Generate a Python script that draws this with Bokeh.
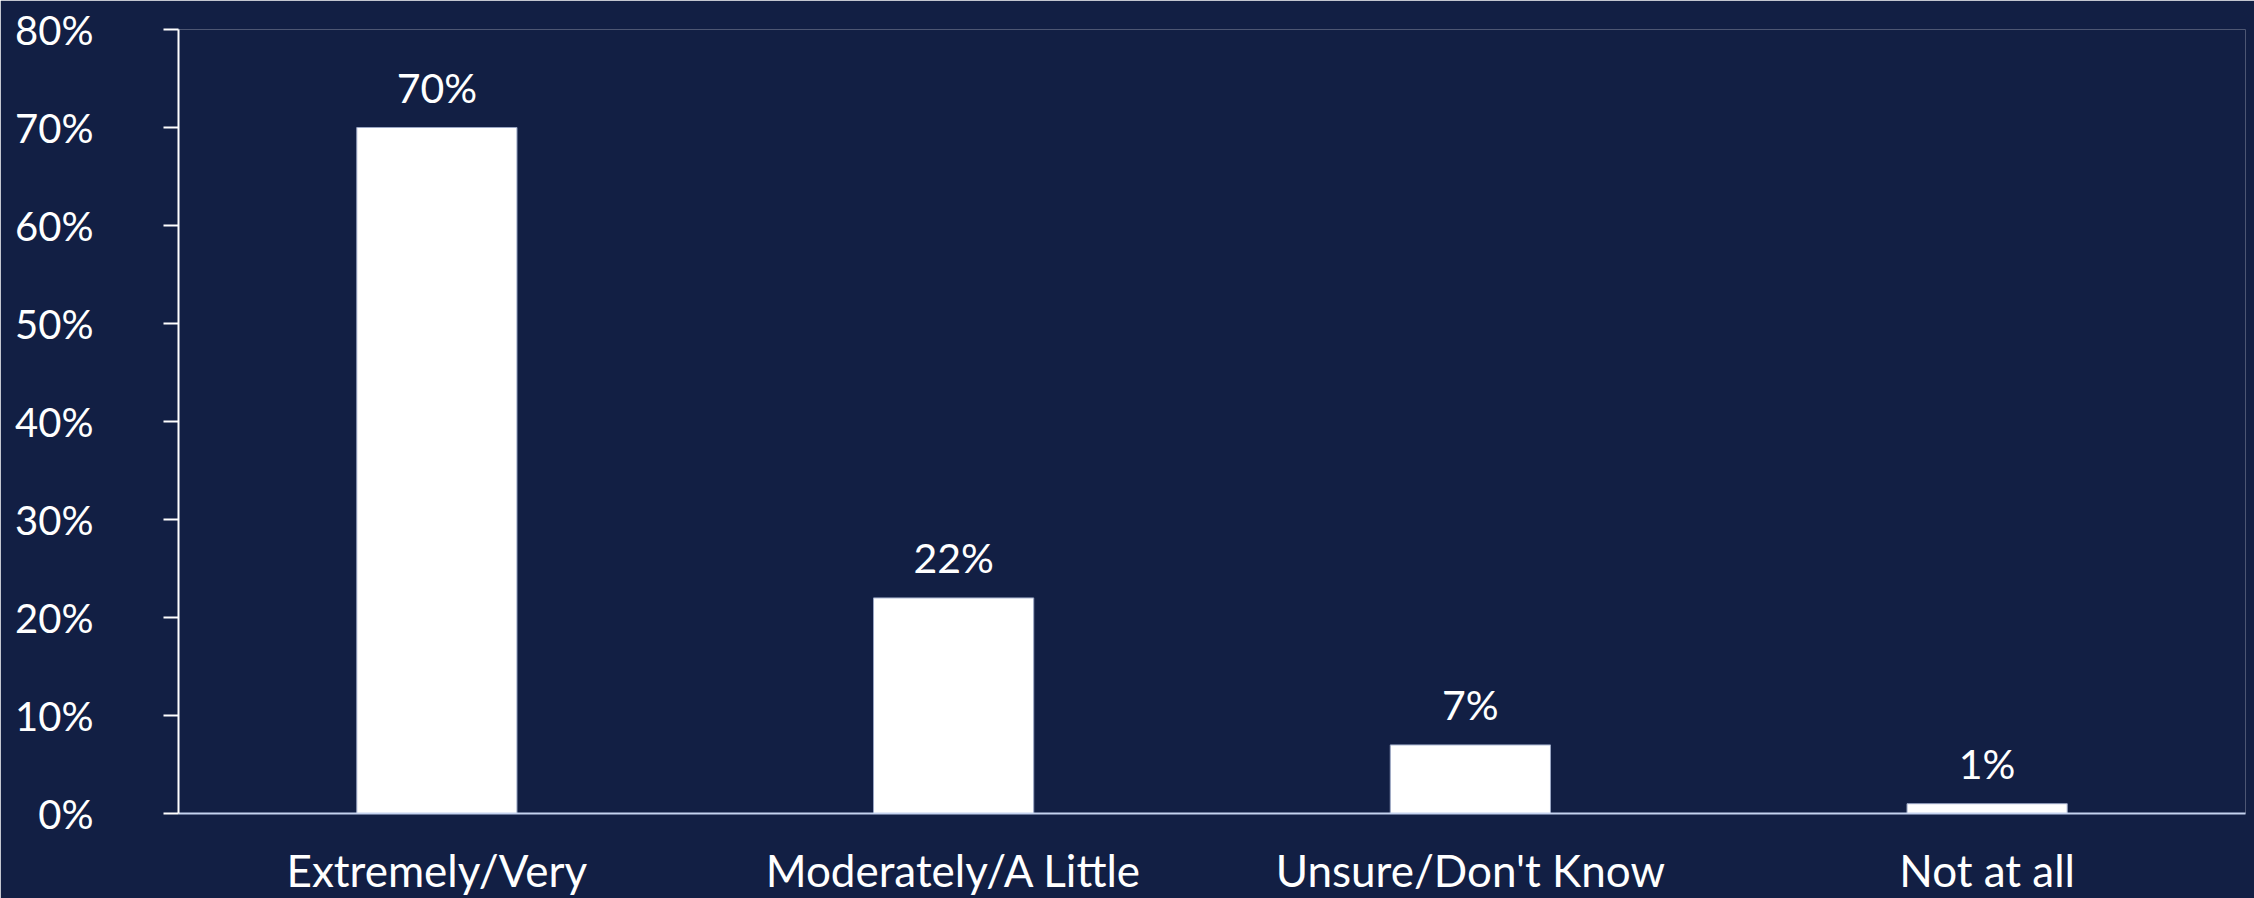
from bokeh.plotting import figure
from bokeh.models import ColumnDataSource, Range1d, FixedTicker, PrintfTickFormatter
from bokeh.core.properties import value
from bokeh.embed import file_html
from bokeh.resources import INLINE

categories = ["Extremely/Very", "Moderately/A Little", "Unsure/Don't Know", "Not at all"]
values = [70, 22, 7, 1]
y_ticks = [0, 10, 20, 30, 40, 50, 60, 70, 80]

BG = "#121F44"
FONT = "Lato"

src = ColumnDataSource(dict(cat=categories, val=values, lab=[f"{v}%" for v in values]))

p = figure(x_range=categories, y_range=Range1d(0, 80), width=2254, height=898,
           output_backend="svg", toolbar_location=None,
           min_border_left=178, min_border_right=9, min_border_top=29, min_border_bottom=85)
p.background_fill_color = BG
p.border_fill_color = BG
p.outline_line_color = None
p.xgrid.grid_line_color = None
p.ygrid.grid_line_color = None
p.x_range.range_padding = 0

p.vbar(x="cat", top="val", width=0.31, source=src, fill_color="white",
       line_color="#9AA6C4", line_width=1)
p.text(x="cat", y="val", text="lab", source=src, text_align="center",
       text_baseline="bottom", y_offset=-16, text_color="white",
       text_font=value(FONT), text_font_size="41px")

ya = p.yaxis[0]
ya.ticker = FixedTicker(ticks=y_ticks)
ya.formatter = PrintfTickFormatter(format="%d%%")
ya.axis_line_color = "white"
ya.axis_line_width = 2
ya.major_tick_line_color = "white"
ya.major_tick_line_width = 2
ya.major_tick_out = 15
ya.major_tick_in = 0
ya.minor_tick_line_color = None
ya.major_label_standoff = 70
ya.major_label_text_color = "white"
ya.major_label_text_font = FONT
ya.major_label_text_font_size = "40px"

xa = p.xaxis[0]
xa.axis_line_color = "#C5D3F0"
xa.axis_line_width = 2
xa.major_tick_line_color = None
xa.minor_tick_line_color = None
xa.major_label_standoff = 24
xa.major_label_text_color = "white"
xa.major_label_text_font = FONT
xa.major_label_text_font_size = "44px"

open("out.html", "w").write(file_html(p, INLINE))
